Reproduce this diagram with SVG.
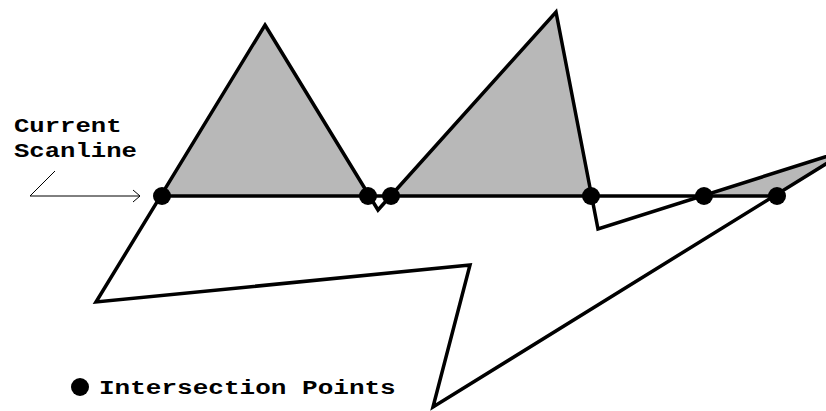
<svg xmlns="http://www.w3.org/2000/svg" width="826" height="411" viewBox="0 0 826 411">
<style>
.txt{font-family:"Liberation Mono","Courier New",monospace;font-weight:bold;font-size:21px;fill:#000}
.thin{stroke:#000;stroke-width:1;fill:none}
.dot{fill:#000}
</style>
<defs>
<clipPath id="above"><rect x="0" y="0" width="826" height="196"/></clipPath>
</defs>
<rect width="826" height="411" fill="#fff"/>
<g id="polygon">
<polygon points="265,25 378,210 556,12 598,229 850,149 433,407 470,265 96,302" fill="#b8b8b8" stroke="none" clip-path="url(#above)"/>
<polygon points="265,25 378,210 556,12 598,229 850,149 433,407 470,265 96,302" fill="none" stroke="#000" stroke-width="3.5" stroke-linejoin="miter"/>
</g>
<g id="scanline">
<line x1="162" y1="196" x2="777" y2="196" stroke="#000" stroke-width="3.5"/>
</g>
<g id="intersections">
<circle class="dot" cx="162" cy="196" r="9"/>
<circle class="dot" cx="368" cy="196" r="9"/>
<circle class="dot" cx="391" cy="196" r="9"/>
<circle class="dot" cx="591" cy="196" r="9"/>
<circle class="dot" cx="704" cy="196" r="9"/>
<circle class="dot" cx="777" cy="196" r="9"/>
</g>
<g id="label-scanline">
<text class="txt" transform="translate(14,132) scale(1.22,1)">Current</text>
<text class="txt" transform="translate(14,157) scale(1.22,1)">Scanline</text>
</g>
<g id="connectors">
<polyline class="thin" points="55,171 30,196 140,196"/>
<polyline class="thin" points="133,190 140,196 133,202"/>
</g>
<g id="legend">
<circle class="dot" cx="80" cy="387" r="9"/>
<text class="txt" transform="translate(99,394) scale(1.24,1)">Intersection Points</text>
</g>
</svg>
